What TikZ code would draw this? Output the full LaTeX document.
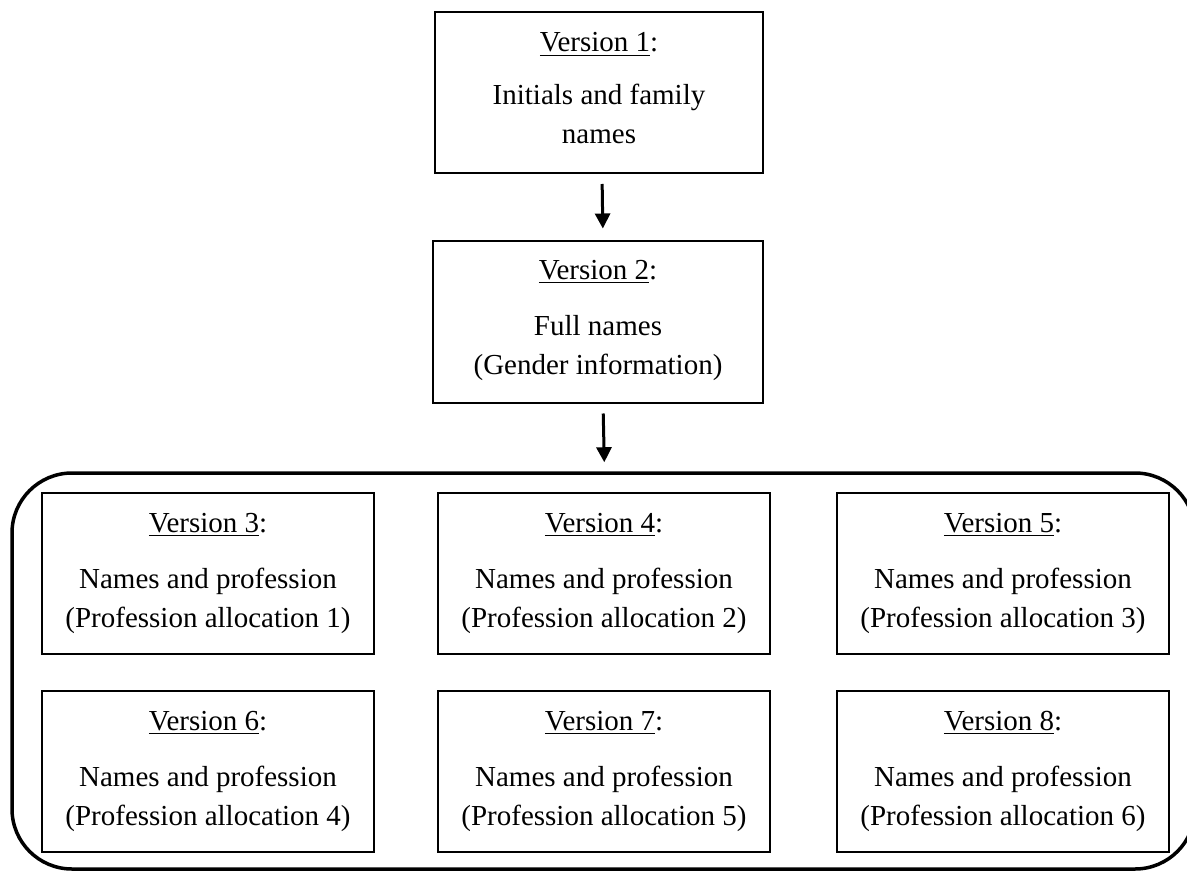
\documentclass[tikz,border=0pt]{standalone}
\usepackage{fontspec}
\setmainfont{Liberation Serif}
\usetikzlibrary{arrows.meta}
\begin{document}
\begin{tikzpicture}[x=0.5pt,y=-0.5pt,
  vbox/.style={draw=black,line width=1pt,minimum width=166pt,minimum height=80.5pt,inner sep=0pt},
  vtext/.style={align=center,inner sep=0pt,font=\fontsize{14.5}{19.5}\selectfont},
  frame/.style={draw=black,line width=1.75pt,rounded corners=30pt,minimum width=591.5pt,minimum height=198pt,inner sep=0pt},
  arr/.style={line width=1.5pt,-{Triangle[width=7.5pt,length=7.5pt]}}]
\useasboundingbox (0,0) rectangle (1187,871);
% top boxes
\node[vbox,minimum width=164pt] (b1) at (599,92.5) {};
\node[vtext] (t1) at ([yshift=2.1pt]b1.center) {\underline{Version 1}:\\[7pt]Initials and family\\names};
\node[vbox,minimum width=165pt] (b2) at (598,322) {};
\node[vtext] (t2) at ([yshift=0.8pt]b2.center) {\underline{Version 2}:\\[8.5pt]Full names\\(Gender information)};
% container
\node[frame] (c) at (603.5,671) {};
% inner boxes
\node[vbox] (b3) at (208,573) {};
\node[vtext] (t3) at (b3.center) {\underline{Version 3}:\\[8.5pt]Names and profession\\(Profession allocation 1)};
\node[vbox] (b4) at (604,573) {};
\node[vtext] (t4) at (b4.center) {\underline{Version 4}:\\[8.5pt]Names and profession\\(Profession allocation 2)};
\node[vbox] (b5) at (1003,573) {};
\node[vtext] (t5) at (b5.center) {\underline{Version 5}:\\[8.5pt]Names and profession\\(Profession allocation 3)};
\node[vbox] (b6) at (208,771) {};
\node[vtext] (t6) at (b6.center) {\underline{Version 6}:\\[8.5pt]Names and profession\\(Profession allocation 4)};
\node[vbox] (b7) at (604,771) {};
\node[vtext] (t7) at (b7.center) {\underline{Version 7}:\\[8.5pt]Names and profession\\(Profession allocation 5)};
\node[vbox] (b8) at (1003,771) {};
\node[vtext] (t8) at (b8.center) {\underline{Version 8}:\\[8.5pt]Names and profession\\(Profession allocation 6)};
% arrows
\draw[arr,shorten <=5pt,shorten >=6pt] ([xshift=1.5pt]b1.south) -- ([xshift=2.5pt]b2.north);
\draw[arr,shorten <=5pt,shorten >=4.5pt] ([xshift=2.5pt]b2.south) -- ([xshift=0.5pt]c.north);
\end{tikzpicture}
\end{document}
